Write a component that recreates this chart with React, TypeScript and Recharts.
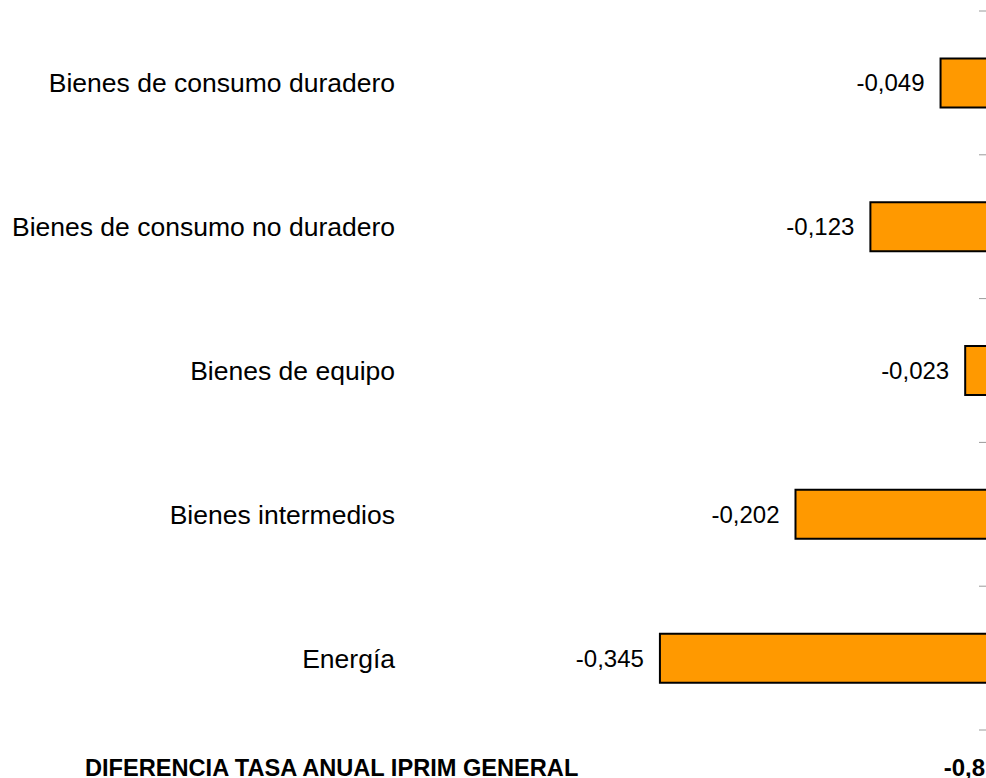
import React from 'react';
import { BarChart, Bar, XAxis, YAxis, LabelList } from 'recharts';

const categories = [
  'Bienes de consumo duradero',
  'Bienes de consumo no duradero',
  'Bienes de equipo',
  'Bienes intermedios',
  'Energía',
];
const values = [-0.049, -0.123, -0.023, -0.202, -0.345];
const totalLabel = 'DIFERENCIA TASA ANUAL IPRIM GENERAL';
const totalValue = -0.8;

const data = categories.map((name, i) => ({ name, value: values[i] }));

const FONT = '"Liberation Sans", Arial, sans-serif';
const fmt = (v: number, d: number) => v.toFixed(d).replace('.', ',');

const BoundaryTick = (props: any) => {
  const { x, y, payload, index, visibleTicksCount } = props;
  const off = payload && typeof payload.offset === 'number' ? payload.offset : 0;
  const len = 8;
  const isLast = index === (visibleTicksCount ?? categories.length) - 1;
  return (
    <g>
      <line x1={x - len} x2={x} y1={y - off} y2={y - off} stroke="#9a9a9a" strokeWidth={1} />
      {isLast && (
        <line x1={x - len} x2={x} y1={y + off} y2={y + off} stroke="#9a9a9a" strokeWidth={1} />
      )}
    </g>
  );
};

export default function App() {
  return (
    <div
      style={{
        position: 'absolute',
        left: 0,
        top: 0,
        width: 986,
        height: 778,
        overflow: 'hidden',
        background: '#fff',
        fontFamily: FONT,
      }}
    >
      <BarChart
        width={990}
        height={778}
        data={data}
        layout="vertical"
        margin={{ top: 11, right: 3, bottom: 48, left: 0 }}
        barCategoryGap="33%"
      >
        <XAxis type="number" domain={[-0.616, 0]} hide allowDataOverflow />
        <YAxis
          yAxisId="cat"
          type="category"
          dataKey="name"
          orientation="left"
          width={403}
          tickLine={false}
          axisLine={false}
          tickSize={0}
          tickMargin={8}
          interval={0}
          tick={{ fontSize: 26.5, fill: '#000', fontFamily: FONT }}
        />
        <YAxis
          yAxisId="grid"
          type="category"
          dataKey="name"
          orientation="right"
          mirror
          axisLine={false}
          tickLine={false}
          tickSize={0}
          tickMargin={0}
          interval={0}
          tick={<BoundaryTick />}
        />
        <Bar
          yAxisId="cat"
          dataKey="value"
          fill="#FF9900"
          stroke="#000"
          strokeWidth={2}
          isAnimationActive={false}
        >
          <LabelList
            dataKey="value"
            position="right"
            offset={16}
            formatter={(v: number) => fmt(v, 3)}
            style={{ fontSize: 24, fill: '#000', fontFamily: FONT }}
          />
        </Bar>
      </BarChart>
      <div
        style={{
          position: 'absolute',
          left: 85,
          top: 758.8,
          fontSize: 23.6,
          lineHeight: '18px',
          fontWeight: 'bold',
          whiteSpace: 'nowrap',
          color: '#000',
        }}
      >
        {totalLabel}
      </div>
      <div
        style={{
          position: 'absolute',
          right: 1,
          top: 758.8,
          fontSize: 24,
          lineHeight: '18px',
          fontWeight: 'bold',
          whiteSpace: 'nowrap',
          color: '#000',
        }}
      >
        {fmt(totalValue, 1)}
      </div>
    </div>
  );
}
